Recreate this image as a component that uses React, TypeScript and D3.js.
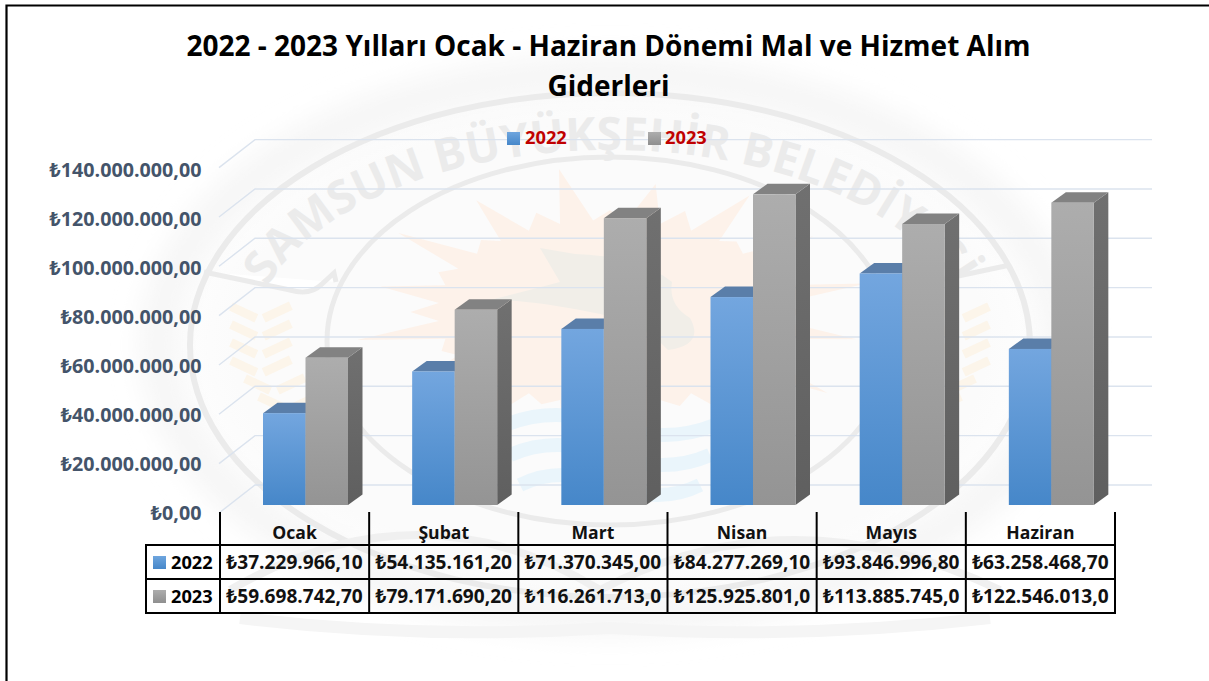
import React from "react";
import * as d3 from "d3";

const categories = ["Ocak", "Şubat", "Mart", "Nisan", "Mayıs", "Haziran"];
const seriesNames = ["2022", "2023"];
const values2022 = [37229966.1, 54135161.2, 71370345.0, 84277269.1, 93846996.8, 63258468.7];
const values2023 = [59698742.7, 79171690.2, 116261713.0, 125925801.0, 113885745.0, 122546013.0];
const labels2022 = ["₺37.229.966,10", "₺54.135.161,20", "₺71.370.345,00", "₺84.277.269,10", "₺93.846.996,80", "₺63.258.468,70"];
const labels2023 = ["₺59.698.742,70", "₺79.171.690,20", "₺116.261.713,0", "₺125.925.801,0", "₺113.885.745,0", "₺122.546.013,0"];
const yTicks = [0, 20e6, 40e6, 60e6, 80e6, 100e6, 120e6, 140e6];
const yTickLabels = ["₺0,00", "₺20.000.000,00", "₺40.000.000,00", "₺60.000.000,00", "₺80.000.000,00", "₺100.000.000,00", "₺120.000.000,00", "₺140.000.000,00"];
const titleLines = ["2022 - 2023 Yılları Ocak - Haziran Dönemi Mal ve Hizmet Alım", "Giderleri"];
const sunRays = [112, 146, 104, 152, 110, 136, 106, 150, 116, 140, 104, 152, 112, 142, 106, 150, 116, 136, 108, 148, 106, 140, 112, 152, 106, 136, 114, 146, 104, 142, 110, 152];

const FONT = "'Open Sans', 'Noto Sans', sans-serif";
const x0 = d3.scaleBand<string>().domain(categories).range([220, 1115]);
const x1 = d3.scaleBand<string>().domain(seriesNames).range([43, 128]);
const y = d3.scaleLinear().domain([0, 140e6]).range([505, 159.6]);
const yBack = d3.scaleLinear().domain([0, 140e6]).range([485, 139.6]);
const yLabel = d3.scaleLinear().domain([0, 140e6]).range([519.5, 176.5]);
const DX = 14.5, DY = 10.5;
const series = [
  { name: "2022", values: values2022, labels: labels2022, front: "url(#blue)", top: "#5a7ea9", side: "#3f6c9e", swatch: "url(#blueS)" },
  { name: "2023", values: values2023, labels: labels2023, front: "url(#gray)", top: "#828282", side: "url(#graySide)", swatch: "url(#grayS)" },
];
const rowY = [545, 579, 613];
const tableLeft = 146, tableRight = 1115;

function sunPath(cx: number, cy: number) {
  const n = sunRays.length;
  const pts: [number, number][] = [];
  sunRays.forEach((r, i) => {
    const a = (i / n) * 2 * Math.PI;
    const b = ((i + 0.5) / n) * 2 * Math.PI;
    pts.push([cx + Math.cos(a) * r * 1.72, cy + Math.sin(a) * r * 0.96]);
    pts.push([cx + Math.cos(b) * 172, cy + Math.sin(b) * 92]);
  });
  return d3.line()(pts) + "Z";
}

function Leaves({ side }: { side: number }) {
  const rows = [0, 1, 2, 3, 4, 5, 6];
  return (
    <g fill="#fcf5ea">
      {rows.map((i) => {
        const cx = 610 + side * (350 - (i > 3 ? (i - 3) * 14 : 0));
        const cy = 320 + i * 18;
        return (
          <g key={i} transform={`translate(${cx},${cy}) scale(${side},1) rotate(25)`}>
            <rect x={-34} y={-4.5} width={30} height={9} />
            <rect x={4} y={-4.5} width={28} height={9} transform="rotate(-50)" />
          </g>
        );
      })}
    </g>
  );
}

function Watermark() {
  const stroke = "#ebebeb";
  return (
    <g>
      <ellipse cx={610} cy={345} rx={470} ry={285} fill="url(#halo)" />
      <ellipse cx={610} cy={345} rx={452} ry={272} fill="none" stroke="#f5f5f5" strokeWidth={34} filter="url(#soft)" />
      <path d={sunPath(610, 312)} fill="#fdf2ea" />
      <Leaves side={-1} />
      <Leaves side={1} />
      <g fill="none" stroke="#eaf5fb" strokeWidth={14}>
        <path d="M505 425 Q555 405 610 425 T715 425" />
        <path d="M510 455 Q555 435 610 455 T710 455" />
        <path d="M520 485 Q560 465 610 485 T700 485" />
      </g>
      <path d="M490 300 Q530 290 560 282 L540 248 L575 254 Q640 256 672 282 Q668 305 690 318 Q705 345 668 350 Q640 320 590 312 Q530 300 490 300Z" fill="#f1eee8" />
      <ellipse cx={610} cy={345} rx={420} ry={252} fill="none" stroke={stroke} strokeWidth={6} />
      <ellipse cx={610} cy={341} rx={283} ry={184} fill="none" stroke={stroke} strokeWidth={5} />
      <path d="M204 272 L290 290 Q310 296 322 284 L334 273 L336 282" fill="#fff" stroke={stroke} strokeWidth={5} />
      <path d="M1010 265 L930 282 Q905 290 880 296" fill="none" stroke={stroke} strokeWidth={5} />
      <path d="M230 590 Q420 480 600 590 Q790 490 1000 590" fill="none" stroke="#f0f0f0" strokeWidth={8} />
      <path d="M240 618 Q420 640 610 628 Q800 640 990 618" fill="none" stroke="#f5f5f5" strokeWidth={12} />
      <path id="sealText" d="M 251 345 A 359 195 0 0 1 969 345" fill="none" />
      <text fontFamily={FONT} fontWeight={700} fontSize={46} fill="#ebebeb" letterSpacing={0}>
        <textPath href="#sealText" startOffset="50%" textAnchor="middle">SAMSUN BÜYÜKŞEHİR BELEDİYESİ</textPath>
      </text>
    </g>
  );
}

export default function App() {
  const bandLines = [...categories.map((c) => x0(c)!), tableRight];
  return (
    <svg width={1209} height={681} viewBox="0 0 1209 681" style={{ position: "absolute", left: 0, top: 0, background: "#fff" }}>
      <defs>
        <linearGradient id="blue" x1="0" y1="0" x2="0" y2="1"><stop offset="0" stopColor="#73a6df" /><stop offset="1" stopColor="#4687c9" /></linearGradient>
        <linearGradient id="gray" x1="0" y1="0" x2="0" y2="1"><stop offset="0" stopColor="#adadad" /><stop offset="1" stopColor="#949494" /></linearGradient>
        <linearGradient id="graySide" x1="0" y1="0" x2="0" y2="1"><stop offset="0" stopColor="#707070" /><stop offset="1" stopColor="#5f5f5f" /></linearGradient>
        <linearGradient id="blueS" x1="0" y1="0" x2="0" y2="1"><stop offset="0" stopColor="#6ea5de" /><stop offset="1" stopColor="#4687c9" /></linearGradient>
        <linearGradient id="grayS" x1="0" y1="0" x2="0" y2="1"><stop offset="0" stopColor="#adadad" /><stop offset="1" stopColor="#8f8f8f" /></linearGradient>
        <radialGradient id="halo"><stop offset="0.8" stopColor="#fbfbfb" /><stop offset="1" stopColor="#ffffff" /></radialGradient>
        <filter id="soft"><feGaussianBlur stdDeviation="14" /></filter>
      </defs>
      <rect width={1209} height={681} fill="#fff" />
      <Watermark />
      <path d="M6.5 681V5.5H1209" fill="none" stroke="#000" strokeWidth={2.2} />
      {titleLines.map((t, i) => (
        <text key={t} x={608.5} y={56 + i * 40} textAnchor="middle" fontFamily={FONT} fontWeight={700} fontSize={28} fill="#000">{t}</text>
      ))}
      {yTicks.map((t) => (
        <path key={t} d={`M219 ${yBack(t) + 28}L255 ${yBack(t)}H1152`} fill="none" stroke="#dbe3ee" strokeWidth={1.4} />
      ))}
      {yTicks.map((t, i) => (
        <text key={t} x={201.5} y={yLabel(t)} textAnchor="end" fontFamily={FONT} fontWeight={700} fontSize={19.7} fill="#44546a">{yTickLabels[i]}</text>
      ))}
      {categories.map((c, ci) => (
        <g key={c}>
          {series.map((s) => {
            const l = x0(c)! + x1(s.name)!;
            const r = l + x1.bandwidth();
            const t = y(s.values[ci]);
            const b = y(0);
            return (
              <g key={s.name}>
                <path d={`M${r} ${t}l${DX} ${-DY}V${b - DY}L${r} ${b}Z`} fill={s.side} />
                <path d={`M${l} ${t}l${DX} ${-DY}H${r + DX}L${r} ${t}Z`} fill={s.top} />
                <rect x={l} y={t} width={r - l} height={b - t} fill={s.front} />
              </g>
            );
          })}
        </g>
      ))}
      {series.map((s, i) => (
        <g key={s.name}>
          <rect x={507 + i * 141} y={132} width={13} height={13} fill={s.swatch} />
          <text x={525 + i * 140} y={144} fontFamily={FONT} fontWeight={700} fontSize={18.3} fill="#c00000">{s.name}</text>
        </g>
      ))}
      <g stroke="#000" strokeWidth={2} fill="none">
        {bandLines.map((x) => <path key={x} d={`M${x} 512V${rowY[2]}`} />)}
        <path d={`M${tableLeft} ${rowY[0]}V${rowY[2]}`} />
        {rowY.map((ry) => <path key={ry} d={`M${tableLeft - 1} ${ry}H${tableRight + 1}`} />)}
      </g>
      {categories.map((c) => (
        <text key={c} x={x0(c)! + x0.bandwidth() / 2} y={539} textAnchor="middle" fontFamily={FONT} fontWeight={700} fontSize={17.6} fill="#111">{c}</text>
      ))}
      {series.map((s, i) => (
        <g key={s.name}>
          <rect x={153} y={rowY[i] + 11} width={13} height={13} fill={s.swatch} />
          <text x={171} y={rowY[i] + 24} fontFamily={FONT} fontWeight={700} fontSize={18.2} fill="#000">{s.name}</text>
          {categories.map((c, ci) => (
            <text key={c} x={x0(c)! + x0.bandwidth() / 2} y={rowY[i] + 24} textAnchor="middle" fontFamily={FONT} fontWeight={700} fontSize={19.1} fill="#111">{s.labels[ci]}</text>
          ))}
        </g>
      ))}
    </svg>
  );
}
